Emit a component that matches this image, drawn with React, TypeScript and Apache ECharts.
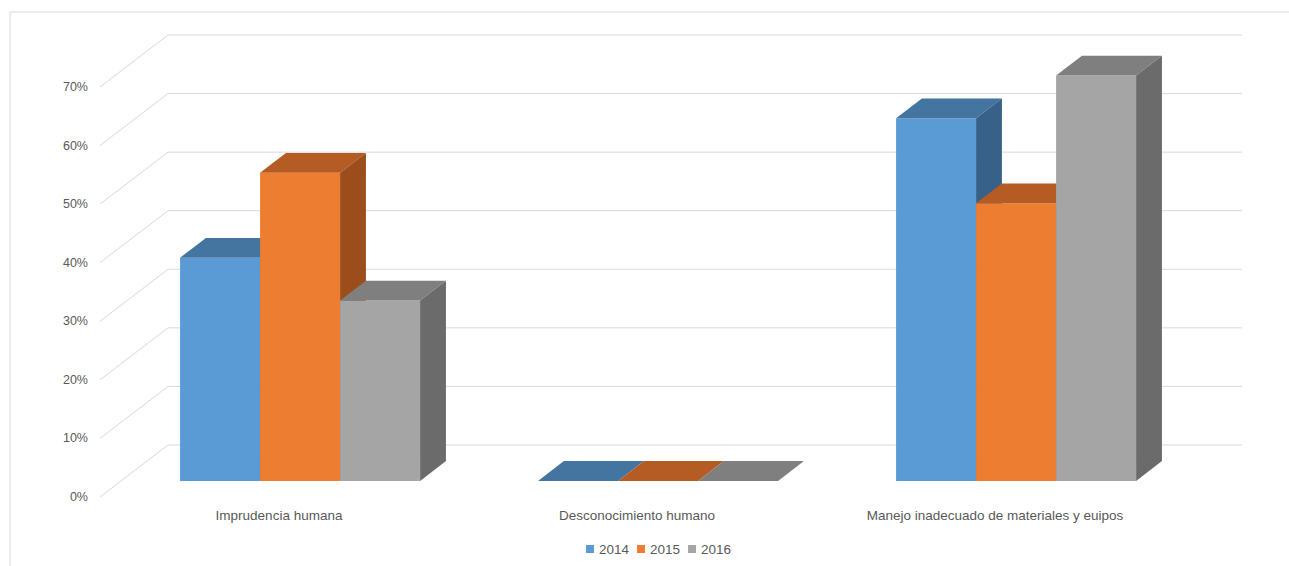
import React, { useEffect, useRef } from "react";
import * as echarts from "echarts";

const categories = [
  "Imprudencia humana",
  "Desconocimiento humano",
  "Manejo inadecuado de materiales y euipos",
];
const years = ["2014", "2015", "2016"];
const values2014 = [0.381, 0, 0.619];
const values2015 = [0.526, 0, 0.474];
const values2016 = [0.308, 0, 0.692];
const yTicks = [0, 0.1, 0.2, 0.3, 0.4, 0.5, 0.6, 0.7];

const seriesValues = [values2014, values2015, values2016];
const frontColors = ["#5B9BD5", "#ED7D31", "#A5A5A5"];
const topColors = ["#4474A0", "#B45C23", "#7F7F7F"];
const sideColors = ["#386189", "#9C4D1C", "#6B6B6B"];

// depth geometry of the oblique projection (pixels)
const DX = 68;
const DY = -52;
const BAR_FRONT = 0.31;
const BAR_BACK = 0.69;
const BAR_W = 0.2235;

export default function App() {
  const ref = useRef<HTMLDivElement>(null);
  useEffect(() => {
    if (!ref.current) return;
    const chart = echarts.init(ref.current, null, { renderer: "svg" });

    const wallSeries: any = {
      type: "custom",
      name: "walls",
      silent: true,
      z: 1,
      data: yTicks.map((v) => [0, v]),
      renderItem: (params: any, api: any) => {
        const v = api.value(1);
        const c0 = api.coord([0, v]);
        const band = api.size([1, 0])[0];
        const left = c0[0] - band / 2;
        const right = c0[0] + band * (categories.length - 0.5);
        const y = c0[1];
        return {
          type: "polyline",
          shape: {
            points: [
              [left, y],
              [left + DX, y + DY],
              [right + DX, y + DY],
            ],
          },
          style: { stroke: "#D9D9D9", lineWidth: 1, fill: "none" },
        };
      },
    };

    const barSeries = years.map((yr, si) => ({
      type: "custom",
      name: yr,
      z: 2,
      itemStyle: { color: frontColors[si] },
      data: seriesValues[si].map((v, ci) => [ci, v]),
      renderItem: (params: any, api: any) => {
        const cat = api.value(0);
        const val = api.value(1);
        const base = api.coord([cat, 0]);
        const top = api.coord([cat, val]);
        const band = api.size([1, 0])[0];
        const w = band * BAR_W;
        const fx = BAR_FRONT * DX;
        const fy = BAR_FRONT * DY;
        const ddx = (BAR_BACK - BAR_FRONT) * DX;
        const ddy = (BAR_BACK - BAR_FRONT) * DY;
        const x0 = base[0] + fx - 1.5 * w + si * w;
        const by = base[1] + fy;
        const ty = top[1] + fy;
        return {
          type: "group",
          children: [
            {
              type: "rect",
              shape: { x: x0, y: ty, width: w, height: by - ty },
              style: { fill: frontColors[si] },
            },
            {
              type: "polygon",
              shape: {
                points: [
                  [x0, ty],
                  [x0 + w, ty],
                  [x0 + w + ddx, ty + ddy],
                  [x0 + ddx, ty + ddy],
                ],
              },
              style: { fill: topColors[si] },
            },
            {
              type: "polygon",
              shape: {
                points: [
                  [x0 + w, ty],
                  [x0 + w, by],
                  [x0 + w + ddx, by + ddy],
                  [x0 + w + ddx, ty + ddy],
                ],
              },
              style: { fill: sideColors[si] },
            },
          ],
        };
      },
    }));

    chart.setOption({
      animation: false,
      backgroundColor: "#FFFFFF",
      textStyle: { fontFamily: "Liberation Sans" },
      graphic: [
        {
          type: "rect",
          shape: { x: 10, y: 12, width: 1300, height: 600 },
          style: { fill: "none", stroke: "#D9D9D9", lineWidth: 1 },
          silent: true,
        },
      ],
      legend: {
        data: years,
        bottom: 5,
        left: 581,
        icon: "rect",
        itemWidth: 8,
        itemHeight: 8,
        itemGap: 8,
        textStyle: { color: "#595959", fontSize: 13.5, fontFamily: "Liberation Sans" },
      },
      grid: { left: 100, right: 115, top: 87, bottom: 69 },
      xAxis: {
        type: "category",
        data: categories,
        axisLine: { show: false },
        axisTick: { show: false },
        axisLabel: { color: "#595959", fontSize: 13.5, margin: 11, fontFamily: "Liberation Sans" },
        splitLine: { show: false },
      },
      yAxis: {
        type: "value",
        min: 0,
        max: 0.7,
        interval: 0.1,
        axisLine: { show: false },
        axisTick: { show: false },
        splitLine: { show: false },
        axisLabel: {
          color: "#595959",
          fontSize: 12.5,
          margin: 12,
          fontFamily: "Liberation Sans",
          formatter: (v: number) => Math.round(v * 100) + "%",
        },
      },
      series: [wallSeries, ...barSeries],
    });
    return () => chart.dispose();
  }, []);
  return (
    <div
      ref={ref}
      style={{ position: "fixed", left: 0, top: 0, width: 1289, height: 566 }}
    />
  );
}
